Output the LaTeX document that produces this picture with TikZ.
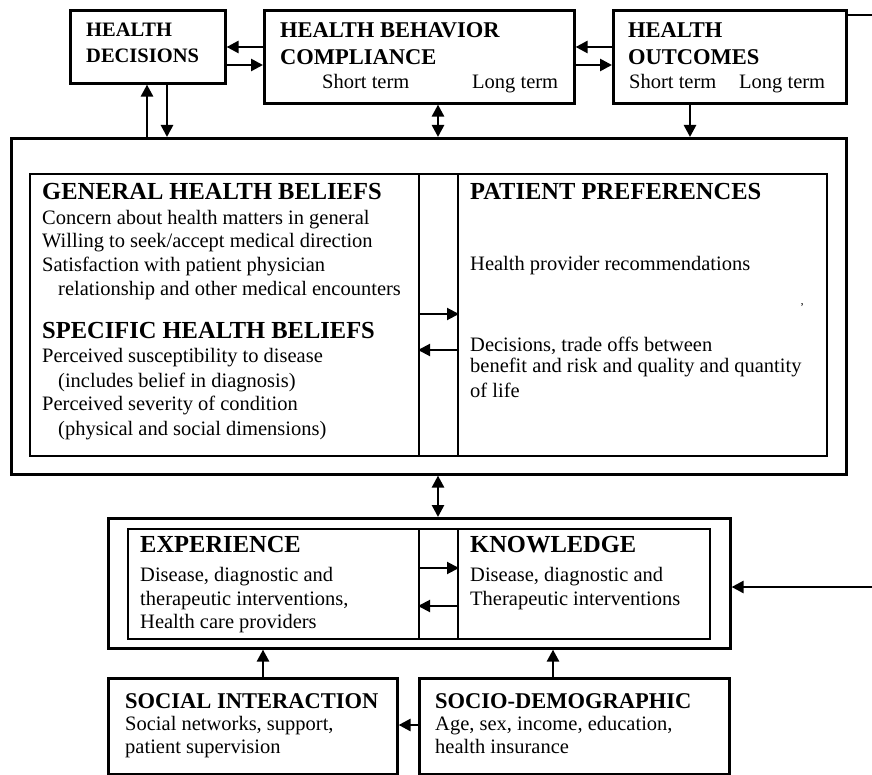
\documentclass[tikz,border=0pt]{standalone}
\usepackage{fontspec}
\setmainfont{Liberation Serif}
\usetikzlibrary{arrows.meta,calc}
\begin{document}
\begin{tikzpicture}[x=1pt,y=-1pt,
  box/.style={draw, line width=2.6pt, inner sep=0pt, anchor=north west},
  ibox/.style={draw, line width=2pt, inner sep=0pt, anchor=north west},
  hA/.style={font=\bfseries\fontsize{24.5}{28}\selectfont, anchor=base west, inner sep=0pt},
  hB/.style={font=\bfseries\fontsize{22.5}{26}\selectfont, anchor=base west, inner sep=0pt},
  hC/.style={font=\bfseries\fontsize{20.5}{24}\selectfont, anchor=base west, inner sep=0pt},
  tx/.style={font=\fontsize{20.5}{24}\selectfont, anchor=base west, inner sep=0pt},
  arr/.style={line width=2.6pt, -{Triangle[length=12pt,width=12pt]}},
  darr/.style={line width=2.6pt, {Triangle[length=12pt,width=12pt]}-{Triangle[length=12pt,width=12pt]}},
  ln/.style={line width=2.4pt}
]
\useasboundingbox[fill=white] (0,0) rectangle (872,775);

% ---------- boxes ----------
\node[box, minimum width=155pt, minimum height=73pt] (hd) at (69,9) {};
\node[box, minimum width=310pt, minimum height=93pt] (hbc) at (263,9) {};
\node[box, minimum width=233pt, minimum height=93pt] (ho) at (612,9) {};
\node[box, minimum width=835pt, minimum height=336pt] (big) at (10,137) {};
\node[ibox, minimum width=797pt, minimum height=282pt] (inner) at (29,173) {};
\node[ibox, minimum width=39pt, minimum height=282pt] (mid) at (418,173) {};
\node[box, minimum width=622pt, minimum height=130pt] (bout) at (107,517) {};
\node[ibox, minimum width=582pt, minimum height=110pt] (binner) at (127,528) {};
\node[ibox, minimum width=39pt, minimum height=110pt] (bmid) at (418,528) {};
\node[box, minimum width=289pt, minimum height=96pt] (si) at (107,677) {};
\node[box, minimum width=310pt, minimum height=96pt] (sd) at (418,677) {};

% ---------- helper coordinates ----------
\coordinate (y47) at (0,47);
\coordinate (y65) at (0,65);
\coordinate (x147) at (147,0);
\coordinate (x167) at (167,0);
\coordinate (x438) at (438,0);
\coordinate (x690) at (690,0);
\coordinate (y314) at (0,314);
\coordinate (y350) at (0,350);
\coordinate (y568) at (0,568);
\coordinate (y606) at (0,606);
\coordinate (x263) at (263,0);
\coordinate (x553) at (553,0);
\coordinate (y725) at (0,725);
\coordinate (rt) at (872,15);
\coordinate (rb) at (872,587);

% ---------- connectors ----------
\draw[arr] (hbc.west |- y47) -- (hd.east |- y47);
\draw[arr] (hd.east |- y65) -- (hbc.west |- y65);
\draw[arr] (ho.west |- y47) -- (hbc.east |- y47);
\draw[arr] (hbc.east |- y65) -- (ho.west |- y65);
\draw[arr] (big.north -| x147) -- (hd.south -| x147);
\draw[arr] (hd.south -| x167) -- (big.north -| x167);
\draw[darr] (hbc.south -| x438) -- (big.north -| x438);
\draw[arr] (ho.south -| x690) -- (big.north -| x690);
\draw[ln] (ho.east |- rt) -- (rt);
\draw[arr, line width=2pt] (mid.west |- y314) -- (mid.east |- y314);
\draw[arr, line width=2pt] (mid.east |- y350) -- (mid.west |- y350);
\draw[darr] (big.south -| x438) -- (bout.north -| x438);
\draw[arr, line width=2pt] (bmid.west |- y568) -- (bmid.east |- y568);
\draw[arr, line width=2pt] (bmid.east |- y606) -- (bmid.west |- y606);
\draw[arr] (rb) -- (bout.east |- rb);
\draw[arr] (si.north -| x263) -- (bout.south -| x263);
\draw[arr] (sd.north -| x553) -- (bout.south -| x553);
\draw[arr] (sd.west |- y725) -- (si.east |- y725);

% ---------- texts: top ----------
\node[hC] (t1) at (86,37) {HEALTH};
\node[hC] (t2) at (86,63) {DECISIONS};
\node[hB] (t3) at (280,38) {HEALTH BEHAVIOR};
\node[hB] (t4) at (280,65) {COMPLIANCE};
\node[tx] (t5) at (322,89) {Short term};
\node[tx] (t6) at (472,89) {Long term};
\node[hB] (t7) at (628,38) {HEALTH};
\node[hB] (t8) at (628,65) {OUTCOMES};
\node[tx] (t9) at (629,89) {Short term};
\node[tx] (t10) at (739,89) {Long term};

% ---------- texts: middle ----------
\node[hA] (g0) at (42,200) {GENERAL HEALTH BELIEFS};
\node[tx] (g1) at (42,225) {Concern about health matters in general};
\node[tx] (g2) at (42,248) {Willing to seek/accept medical direction};
\node[tx] (g3) at (42,272) {Satisfaction with patient physician};
\node[tx] (g4) at (58,296) {relationship and other medical encounters};
\node[hA] (s0) at (42,338) {SPECIFIC HEALTH BELIEFS};
\node[tx] (s1) at (42,362) {Perceived susceptibility to disease};
\node[tx] (s2) at (58,387) {(includes belief in diagnosis)};
\node[tx] (s3) at (42,410) {Perceived severity of condition};
\node[tx] (s4) at (58,435) {(physical and social dimensions)};

\node[hA] (p0) at (470,200) {PATIENT PREFERENCES};
\node[tx] (p1) at (470,271) {Health provider recommendations};
\node[font=\fontsize{12}{12}\selectfont, inner sep=0pt] (tick) at (802,308) {'};
\node[tx] (p2) at (470,351) {Decisions, trade offs between};
\begin{scope}
\clip (460,355) rectangle (801,380);
\node[tx] (p3) at (470,372) {benefit and risk and quality and quantity};
\end{scope}
\node[tx] (p4) at (470,397) {of life};

% ---------- texts: bottom ----------
\node[hA] (e0) at (140,552) {EXPERIENCE};
\node[tx] (e1) at (140,581) {Disease, diagnostic and};
\node[tx] (e2) at (140,605) {therapeutic interventions,};
\node[tx] (e3) at (140,628) {Health care providers};
\node[hA] (k0) at (470,552) {KNOWLEDGE};
\node[tx] (k1) at (470,581) {Disease, diagnostic and};
\node[tx] (k2) at (470,605) {Therapeutic interventions};

\node[hB] (i0) at (125,708) {SOCIAL INTERACTION};
\node[tx] (i1) at (125,730) {Social networks, support,};
\node[tx] (i2) at (125,753) {patient supervision};
\node[hB] (d0) at (435,708) {SOCIO-DEMOGRAPHIC};
\node[tx] (d1) at (435,730) {Age, sex, income, education,};
\node[tx] (d2) at (435,753) {health insurance};
\end{tikzpicture}
\end{document}
